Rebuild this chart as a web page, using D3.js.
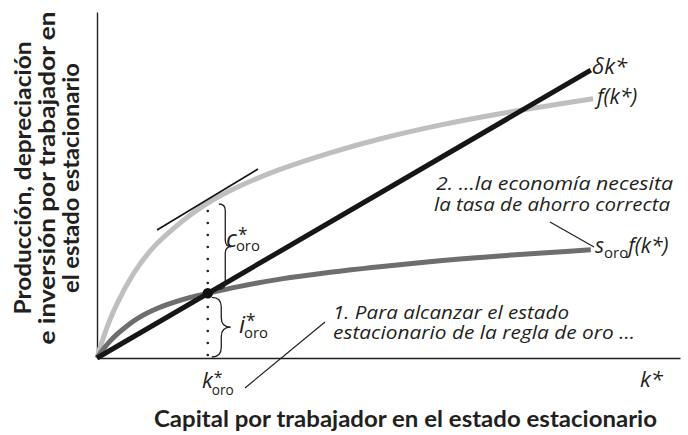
<!DOCTYPE html>
<html><head><meta charset="utf-8">
<script src="https://cdn.jsdelivr.net/npm/d3@7"></script>
<style>
html,body{margin:0;padding:0;background:#fff;}
svg{display:block;}
.lbl{font-family:"Open Sans",Lato,sans-serif;font-style:italic;fill:#231f20;}
.up{font-family:"Open Sans",Lato,sans-serif;font-style:normal;fill:#231f20;}
.bold{font-family:Lato,"Open Sans",sans-serif;font-weight:bold;fill:#231f20;}
</style></head>
<body>
<svg id="chart" width="688" height="435"></svg>
<script>
// ---- data ----
const depK = [0, 84.7];
const depVals = [0, 83.2];
const fK    = [0, 0.5, 1.2, 2.2, 3.6, 5.3, 7.4, 9.9, 12.9, 16.0, 19.0, 24.5, 31.4, 40.0, 48.5, 58.8, 69.1, 77.7, 85.1];
const fVals = [0, 2.9, 6.4, 11.0, 16.2, 21.7, 27.2, 32.4, 37.1, 41.3, 44.8, 49.7, 54.5, 59.3, 63.3, 67.3, 70.6, 73.0, 74.9];
const sK    = [0, 0.5, 1.2, 2.2, 3.6, 5.3, 7.4, 9.9, 12.9, 16.0, 19.0, 24.5, 31.4, 40.0, 48.5, 58.8, 69.1, 77.7, 84.7];
const sVals = [0, 1.2, 2.8, 4.8, 7.1, 9.5, 11.9, 14.0, 15.9, 17.5, 18.7, 20.7, 22.8, 24.8, 26.4, 28.1, 29.5, 30.5, 31.3];
const kGold = 19.0;
const tangentK = [10.3, 27.6];
const tangentV = [37.0, 54.6];
const yTitleLines = ["Producción, depreciación", "e inversión por trabajador en", "el estado estacionario"];
const xTitle = "Capital por trabajador en el estado estacionario";
const note2 = ["2. …la economía necesita", "la tasa de ahorro correcta"];
const note1 = ["1. Para alcanzar el estado", "estacionario de la regla de oro …"];

const svg = d3.select("#chart");
const x = d3.scaleLinear().domain([0, 100]).range([97, 680]);
const y = d3.scaleLinear().domain([0, 100]).range([358, 12]);

// axes
svg.append("g").attr("transform", `translate(0,${y(0)})`)
  .call(d3.axisBottom(x).tickValues([]).tickSizeOuter(0));
svg.append("g").attr("transform", `translate(${x(0)},0)`)
  .call(d3.axisLeft(y).tickValues([]).tickSizeOuter(0));
svg.selectAll(".domain").attr("stroke", "#231f20").attr("stroke-width", 1.4);

const line = d3.line().x(d => x(d[0])).y(d => y(d[1])).curve(d3.curveCatmullRom.alpha(0.5));
const zip = (a, b) => a.map((v, i) => [v, b[i]]);

// dotted guide at k_gold
const fGold = fVals[fK.indexOf(kGold)];
const sGold = sVals[sK.indexOf(kGold)];
svg.append("line")
  .attr("x1", x(kGold)).attr("x2", x(kGold))
  .attr("y1", y(fGold) + 8).attr("y2", y(0) - 3)
  .attr("stroke", "#231f20").attr("stroke-width", 2.6)
  .attr("stroke-linecap", "round").attr("stroke-dasharray", "0 12");

// curves
svg.append("path").attr("d", line(zip(fK, fVals)))
  .attr("fill", "none").attr("stroke", "#bfbfbf").attr("stroke-width", 5);
svg.append("path").attr("d", line(zip(sK, sVals)))
  .attr("fill", "none").attr("stroke", "#6e6e6e").attr("stroke-width", 5);
svg.append("path").attr("d", d3.line().x(d => x(d[0])).y(d => y(d[1]))(zip(depK, depVals)))
  .attr("fill", "none").attr("stroke", "#161616").attr("stroke-width", 5);

// tangent
svg.append("line")
  .attr("x1", x(tangentK[0])).attr("y1", y(tangentV[0]))
  .attr("x2", x(tangentK[1])).attr("y2", y(tangentV[1]))
  .attr("stroke", "#161616").attr("stroke-width", 1.8);

// steady-state point
svg.append("circle").attr("cx", x(kGold)).attr("cy", y(sGold)).attr("r", 5.2).attr("fill", "#111");

// braces
function brace(bx, y1, y2, w) {
  const ym = (y1 + y2) / 2, r = w / 2;
  return `M${bx},${y1} Q${bx + r},${y1} ${bx + r},${y1 + r} L${bx + r},${ym - r} Q${bx + r},${ym} ${bx + w},${ym} ` +
         `Q${bx + r},${ym} ${bx + r},${ym + r} L${bx + r},${y2 - r} Q${bx + r},${y2} ${bx},${y2}`;
}
svg.append("path").attr("d", brace(x(kGold) + 11, y(fGold) + 1, y(sGold) - 4, 13))
  .attr("fill", "none").attr("stroke", "#231f20").attr("stroke-width", 1.3);
svg.append("path").attr("d", brace(x(kGold) + 4, y(sGold) + 4, y(0) - 1, 19))
  .attr("fill", "none").attr("stroke", "#231f20").attr("stroke-width", 1.3);

// leader lines
svg.append("line").attr("x1", 245).attr("y1", 388).attr("x2", 325).attr("y2", 322)
  .attr("stroke", "#231f20").attr("stroke-width", 1.2);
svg.append("line").attr("x1", 550).attr("y1", 222).attr("x2", 594).attr("y2", 247)
  .attr("stroke", "#231f20").attr("stroke-width", 1.2);

// labels: italic letter with star superscript and "oro" subscript stacked after it
function starSub(px, py, main, size, supDy, subDy) {
  const t = svg.append("text").attr("class", "lbl").attr("x", px).attr("y", py).attr("font-size", size).text(main);
  const w = t.node().getComputedTextLength();
  svg.append("text").attr("class", "up").attr("x", px + w + 1).attr("y", py + supDy)
    .attr("font-size", size * 0.72).text("*");
  svg.append("text").attr("class", "up").attr("x", px + w - 1).attr("y", py + subDy)
    .attr("font-size", size * 0.62).text("oro");
}
starSub(226, 247, "c", 24, -6, 4);
starSub(239, 333, "i", 24, -6, 5);
starSub(202, 388, "k", 22, -5, 7);

svg.append("text").attr("class", "lbl").attr("x", 640).attr("y", 387).attr("font-size", 22).text("k*");
svg.append("text").attr("class", "lbl").attr("x", 592).attr("y", 74).attr("font-size", 22).text("δk*");
svg.append("text").attr("class", "lbl").attr("x", 597).attr("y", 104).attr("font-size", 21).text("f(k*)");
const sl = svg.append("text").attr("class", "lbl").attr("x", 595).attr("y", 253).attr("font-size", 21);
sl.append("tspan").text("s");
sl.append("tspan").attr("dy", 5).attr("font-size", 15).attr("font-style", "normal").text("oro");
sl.append("tspan").attr("dy", -5).text("f(k*)");

const nt = (tx, ty, s, len) => svg.append("text").attr("class", "lbl").attr("x", tx).attr("y", ty)
  .attr("font-size", 19).attr("textLength", len).attr("lengthAdjust", "spacingAndGlyphs").text(s);
nt(436, 190, note2[0], 237);
nt(434, 211, note2[1], 236);
nt(333, 319, note1[0], 236);
nt(333, 339, note1[1], 302);

// axis titles
svg.append("text").attr("class", "bold").attr("x", 154).attr("y", 427)
  .attr("font-size", 22).attr("textLength", 503).attr("lengthAdjust", "spacingAndGlyphs").text(xTitle);
const yLens = [273, 333, 230];
const yt = svg.append("text").attr("class", "bold").attr("font-size", 22)
  .attr("transform", "translate(31,178) rotate(-90)");
yTitleLines.forEach((s, i) => yt.append("tspan").attr("x", -yLens[i] / 2).attr("y", i * 24)
  .attr("textLength", yLens[i]).attr("lengthAdjust", "spacingAndGlyphs").text(s));
</script>
</body></html>
